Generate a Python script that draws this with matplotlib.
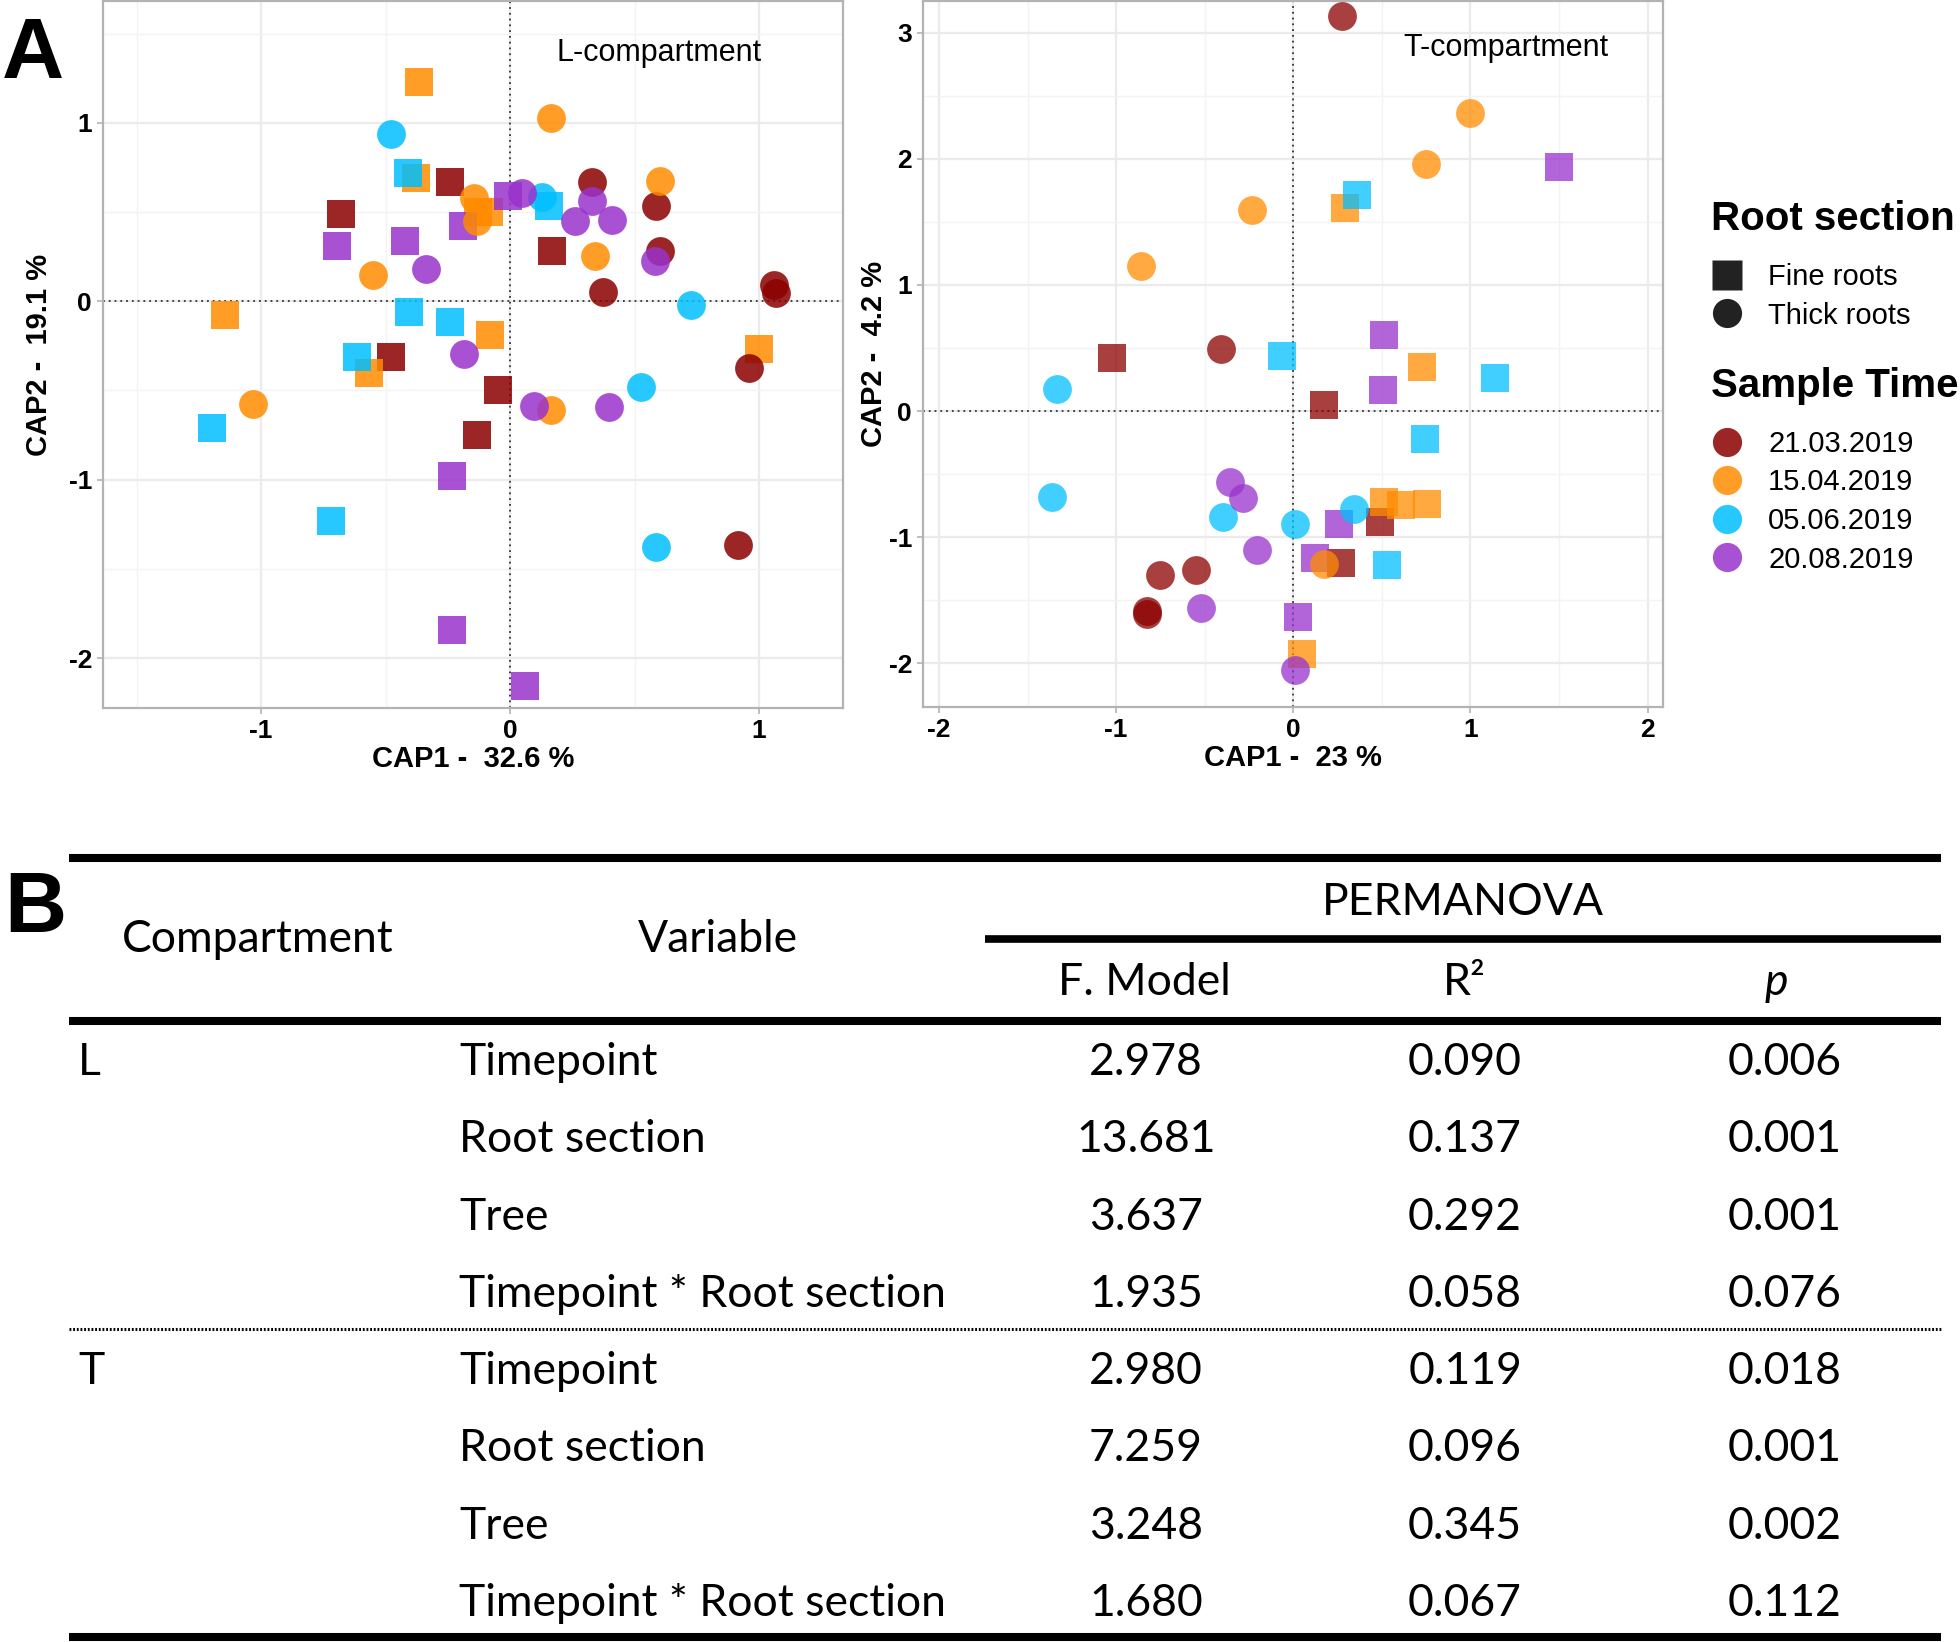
import matplotlib
matplotlib.use("Agg")
import matplotlib.pyplot as plt
from matplotlib.lines import Line2D
import pandas as pd

plt.rcParams['axes.unicode_minus'] = False

# ---- data ----
times = ['21.03.2019', '15.04.2019', '05.06.2019', '20.08.2019']
time_colors = ['#8B0000', '#FF8C00', '#00BFFF', '#9932CC']
roots = ['Fine roots', 'Thick roots']
root_markers = ['s', 'o']

# L-compartment: fine roots (squares)
L_fine_x = [-0.367, -0.41, -0.379, -0.24, -0.01, -0.128, -0.084, -0.19, -0.68, -0.695,
            -0.423, -1.147, -0.407, -0.241, -0.08, -0.616, -0.478, -0.567, -1.197, -0.047,
            -0.133, -0.234, -0.72, -0.234, 0.059, 1.0, 0.158, 0.169]
L_fine_y = [1.23, 0.72, 0.69, 0.67, 0.59, 0.50, 0.50, 0.42, 0.49, 0.31,
            0.336, -0.08, -0.058, -0.116, -0.19, -0.31, -0.31, -0.405, -0.71, -0.50,
            -0.75, -0.98, -1.23, -1.84, -2.155, -0.27, 0.536, 0.284]
L_fine_t = [1, 2, 1, 0, 3, 1, 1, 3, 0, 3,
            3, 1, 2, 2, 1, 2, 0, 1, 2, 0,
            0, 3, 2, 3, 3, 1, 2, 0]
# L-compartment: thick roots (circles)
L_thick_x = [-0.48, -0.145, -0.134, -0.551, -0.337, -0.185, -1.032, 0.096, 0.166, 0.396,
             0.525, 0.958, 0.586, 0.916, 0.166, 0.048, 0.128, 0.33, 0.33, 0.26,
             0.408, 0.339, 0.375, 0.602, 0.585, 0.602, 0.58, 0.726, 1.058, 1.068]
L_thick_y = [0.94, 0.58, 0.448, 0.146, 0.183, -0.295, -0.575, -0.588, -0.61, -0.595,
             -0.48, -0.377, -1.377, -1.368, 1.026, 0.606, 0.582, 0.668, 0.56, 0.448,
             0.454, 0.252, 0.05, 0.676, 0.532, 0.28, 0.224, -0.022, 0.093, 0.047]
L_thick_t = [2, 1, 1, 1, 3, 3, 1, 3, 1, 3,
             2, 0, 2, 0, 1, 3, 2, 0, 3, 3,
             3, 1, 0, 1, 0, 0, 3, 2, 0, 0]

# T-compartment: fine roots (squares)
T_fine_x = [-1.024, -0.066, 1.5, 0.36, 0.292, 0.512, 0.729, 1.136, 0.509, 0.175,
            0.746, 0.512, 0.607, 0.757, 0.492, 0.258, 0.124, 0.271, 0.531, 0.025, 0.047]
T_fine_y = [0.417, 0.435, 1.934, 1.71, 1.613, 0.60, 0.348, 0.264, 0.166, 0.047,
            -0.224, -0.72, -0.747, -0.739, -0.88, -0.897, -1.166, -1.203, -1.219, -1.636, -1.926]
T_fine_t = [0, 2, 3, 2, 1, 3, 1, 2, 3, 0,
            2, 1, 1, 1, 0, 3, 3, 0, 2, 3, 1]
# T-compartment: thick roots (circles)
T_thick_x = [-0.233, -0.859, -0.407, -1.333, 0.277, 0.998, 0.75, 0.341, 0.01, 0.175,
             0.011, -1.362, -0.356, -0.286, -0.395, -0.205, -0.755, -0.551, -0.825, -0.828, -0.521]
T_thick_y = [1.59, 1.153, 0.488, 0.172, 3.13, 2.365, 1.961, -0.776, -0.895, -1.209,
             -2.053, -0.678, -0.565, -0.689, -0.837, -1.10, -1.298, -1.264, -1.583, -1.61, -1.565]
T_thick_t = [1, 1, 0, 2, 0, 1, 1, 2, 2, 1,
             3, 2, 3, 3, 2, 3, 0, 0, 0, 0, 3]

# PERMANOVA table
tab_comp = ['L', 'T']
tab_var = ['Timepoint', 'Root section', 'Tree', 'Timepoint * Root section']
tab_F = [[2.978, 13.681, 3.637, 1.935], [2.980, 7.259, 3.248, 1.680]]
tab_R2 = [[0.090, 0.137, 0.292, 0.058], [0.119, 0.096, 0.345, 0.067]]
tab_p = [[0.006, 0.001, 0.001, 0.076], [0.018, 0.001, 0.002, 0.112]]


def frame(x, y, t, r):
    return pd.DataFrame({'x': x, 'y': y, 't': t, 'r': r})


dL = pd.concat([frame(L_fine_x, L_fine_y, L_fine_t, 0), frame(L_thick_x, L_thick_y, L_thick_t, 1)])
dT = pd.concat([frame(T_fine_x, T_fine_y, T_fine_t, 0), frame(T_thick_x, T_thick_y, T_thick_t, 1)])

W, H = 1960, 1642
fig = plt.figure(figsize=(W / 100, H / 100), dpi=100)
SANS = 'Liberation Sans'
TAB = 'Lato'


def px_axes(l, t, r, b):
    return fig.add_axes([l / W, 1 - b / H, (r - l) / W, (b - t) / H])


def cap_panel(ax, d, alpha, xlim, ylim, xt, yt, xlab, ylab, ylab_x, title, tpos):
    ax.set_xticks(xt)
    ax.set_yticks(yt)
    ax.set_xticks([v + 0.5 for v in xt[:-1]] + [xt[0] - 0.5], minor=True)
    ax.set_yticks([v + 0.5 for v in yt[:-1]] + [yt[-1] + 0.5], minor=True)
    ax.set_xlim(*xlim)
    ax.set_ylim(*ylim)
    ax.grid(which='major', color='#ebebeb', lw=1.6, zorder=0)
    ax.grid(which='minor', color='#f3f3f3', lw=1.0, zorder=0)
    ax.set_axisbelow(True)
    for s in ax.spines.values():
        s.set_color('#b3b3b3')
        s.set_linewidth(1.6)
    ax.tick_params(which='major', length=4, width=1.2, color='#b3b3b3', pad=4,
                   labelsize=19, labelfontfamily=SANS)
    ax.tick_params(which='minor', length=0)
    ax.set_xticklabels([str(v) for v in xt], fontweight='bold', fontsize=19, fontfamily=SANS)
    ax.set_yticklabels([str(v) for v in yt], fontweight='bold', fontsize=19, fontfamily=SANS)
    ax.axhline(0, color='#333333', lw=1.3, dashes=(1, 2.2), zorder=1)
    ax.axvline(0, color='#333333', lw=1.3, dashes=(1, 2.2), zorder=1)
    for ri in range(2):
        for ti in range(4):
            sub = d[(d.r == ri) & (d.t == ti)]
            ax.scatter(sub.x, sub.y, marker=root_markers[ri], s=430, c=time_colors[ti],
                       alpha=alpha, linewidths=0, zorder=3)
    ax.set_xlabel(xlab, fontfamily=SANS, fontweight='bold', fontsize=21, labelpad=1)
    ax.set_ylabel(ylab, fontfamily=SANS, fontweight='bold', fontsize=21)
    ax.yaxis.set_label_coords(ylab_x, 0.5)
    ax.text(tpos[0], tpos[1], title, fontfamily=SANS, fontsize=22, ha='center', va='center')


axL = px_axes(103, 1.5, 843, 708)
cap_panel(axL, dL, 0.85, (-1.635, 1.337), (-2.28, 1.68), [-1, 0, 1], [-2, -1, 0, 1],
          'CAP1 -  32.6 %', 'CAP2 -  19.1 %', -0.068, 'L-compartment', (0.6, 1.39))
axT = px_axes(923, 1.5, 1663, 707)
cap_panel(axT, dT, 0.75, (-2.09, 2.087), (-2.346, 3.246), [-2, -1, 0, 1, 2], [-2, -1, 0, 1, 2, 3],
          'CAP1 -  23 %', 'CAP2 -  4.2 %', -0.047, 'T-compartment', (1.2, 2.88))

# legends
h_root = [Line2D([], [], ls='', marker=m, ms=21, mfc='#222222', mec='none') for m in root_markers]
h_time = [Line2D([], [], ls='', marker='o', ms=21, mfc=c, mec='none', alpha=0.85) for c in time_colors]
legkw = dict(loc='upper left', frameon=False, borderpad=0, borderaxespad=0, handlelength=1.1,
             handletextpad=0.86, labelspacing=0.36, alignment='left',
             prop={'family': SANS, 'size': 21},
             title_fontproperties={'family': SANS, 'weight': 'bold', 'size': 29})
leg1 = fig.legend(h_root, roots, title='Root section', bbox_to_anchor=(1711 / W, 1 - 200 / H), **legkw)
leg2 = fig.legend(h_time, times, title='Sample Time', bbox_to_anchor=(1711 / W, 1 - 367 / H), **legkw)
for lg in (leg1, leg2):
    lg._legend_box.sep = 18

# panel letters
fig.text(2 / W, 1 - 56 / H, 'A', fontfamily=SANS, fontweight='bold', fontsize=62, va='center', ha='left')
fig.text(4 / W, 1 - 910 / H, 'B', fontfamily=SANS, fontweight='bold', fontsize=62, va='center', ha='left')

# table B drawn in pixel space
tb = fig.add_axes([0, 0, 1, 1])
tb.set_xlim(0, W)
tb.set_ylim(H, 0)
tb.axis('off')
TL, TR = 69, 1941
tb.plot([TL, TR], [858, 858], color='k', lw=5.8, solid_capstyle='butt')
tb.plot([985, TR], [939, 939], color='k', lw=5.5, solid_capstyle='butt')
tb.plot([TL, TR], [1021, 1021], color='k', lw=5.8, solid_capstyle='butt')
tb.plot([TL, TR], [1329, 1329], color='k', lw=2.2, dashes=(0.6, 0.6))
tb.plot([TL, TR], [1637, 1637], color='k', lw=5.8, solid_capstyle='butt')

fs = 32
col_F, col_R, col_p = 1146, 1465, 1785
tb.text(1463, 915, 'PERMANOVA', fontfamily=TAB, fontsize=fs, ha='center', va='baseline')
tb.text(122, 952, 'Compartment', fontfamily=TAB, fontsize=fs, ha='left', va='baseline')
tb.text(718, 952, 'Variable', fontfamily=TAB, fontsize=fs, ha='center', va='baseline')
tb.text(1144, 995, 'F. Model', fontfamily=TAB, fontsize=fs, ha='center', va='baseline')
tb.text(1464, 995, 'R²', fontfamily=TAB, fontsize=fs, ha='center', va='baseline')
tb.text(1776, 995, 'p', fontfamily=TAB, fontsize=fs, style='italic', ha='center', va='baseline')

row_y0 = [1075, 1384]
for ci, comp in enumerate(tab_comp):
    tb.text(78, row_y0[ci], comp, fontfamily=TAB, fontsize=fs, ha='left', va='baseline')
    for vi, var in enumerate(tab_var):
        yb = row_y0[ci] + vi * 77.3
        tb.text(459, yb, var, fontfamily=TAB, fontsize=fs, ha='left', va='baseline')
        tb.text(col_F, yb, '{:.3f}'.format(tab_F[ci][vi]), fontfamily=TAB, fontsize=fs, ha='center', va='baseline')
        tb.text(col_R, yb, '{:.3f}'.format(tab_R2[ci][vi]), fontfamily=TAB, fontsize=fs, ha='center', va='baseline')
        tb.text(col_p, yb, '{:.3f}'.format(tab_p[ci][vi]), fontfamily=TAB, fontsize=fs, ha='center', va='baseline')

fig.savefig('out.png', dpi=100)
